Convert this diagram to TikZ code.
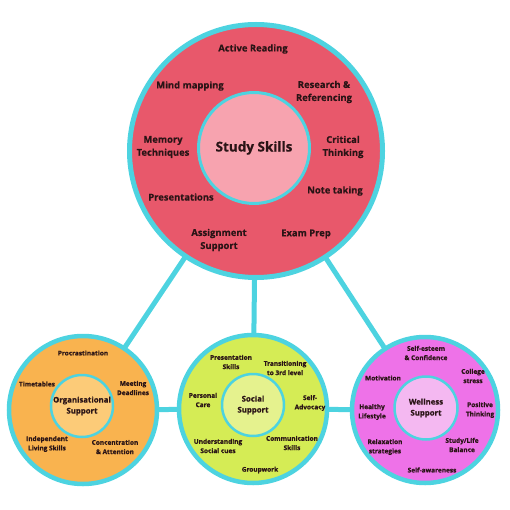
\documentclass[tikz,border=0pt]{standalone}
\usepackage{fontspec}
\setmainfont{Open Sans}[BoldFeatures={FakeBold=0.6}]
\usetikzlibrary{backgrounds}
\definecolor{ringcyan}{HTML}{4DD3E0}
\definecolor{inktext}{HTML}{2A1416}
\definecolor{studyout}{HTML}{E8586B}
\definecolor{studyin}{HTML}{F7A3AF}
\definecolor{orgout}{HTML}{F9B34F}
\definecolor{orgin}{HTML}{FCCB78}
\definecolor{socout}{HTML}{D5EC55}
\definecolor{socin}{HTML}{E5F28E}
\definecolor{welout}{HTML}{EE72E8}
\definecolor{welin}{HTML}{F4B8F1}

\begin{document}
\begin{tikzpicture}[
  x=1pt,
  y=-1pt,
  every node/.style={text=inktext, align=center, inner sep=0pt},
  ring/.style={circle, draw=ringcyan, line width=5pt, minimum size=#1},
  core/.style={circle, draw=ringcyan, line width=#1},
  link/.style={draw=ringcyan, line width=5pt},
  biglabel/.style={font=\fontsize{9.4}{13}\selectfont\bfseries},
  smalllabel/.style={font=\fontsize{6.5}{9.3}\selectfont\bfseries},
  corelabel/.style={font=\fontsize{7.8}{11}\selectfont\bfseries}]

\useasboundingbox (0,0) rectangle (510,510);

% --- Outer rings ---
\node[ring=253pt, fill=studyout] (studyring) at (256,151) {};
\node[ring=148pt, line width=4.5pt, fill=orgout] (orgring) at (83,410) {};
\node[ring=148pt, line width=4.5pt, fill=socout] (socring) at (253,409) {};
\node[ring=146pt, line width=4.5pt, fill=welout] (welring) at (425,410) {};

% --- Centre circles ---
\node[core=3pt, fill=studyin, minimum size=111pt,
      font=\fontsize{13.5}{15}\selectfont\bfseries] (study) at (254,148) {Study Skills};
\node[core=2.5pt, fill=orgin, minimum size=62pt, corelabel] (org) at (82,406)
  {Organisational\\Support};
\node[core=2.5pt, fill=socin, minimum size=62pt, corelabel] (soc) at (253,405)
  {Social\\Support};
\node[core=2.5pt, fill=welin, minimum size=63pt, corelabel] (wel) at (426,408)
  {Wellness\\Support};

% --- Connectors behind the rings ---
\begin{scope}[on background layer]
  \draw[link] (studyring.center) -- (orgring.center);
  \draw[link] (studyring.center) -- (socring.center);
  \draw[link] (studyring.center) -- (welring.center);
  \draw[link] (orgring.center) -- (socring.center) -- (welring.center);
\end{scope}

% --- Study skills topics ---
\foreach \i/\X/\Y/\txt in {1/253/49/Active Reading, 2/190/86/Mind mapping,
    3/324/92/{Research \&\\Referencing}, 4/163/147/{Memory\\Techniques},
    5/343/147/{Critical\\Thinking}, 6/335/191/Note taking,
    7/181/197/Presentations, 8/219/240/{Assignment\\Support},
    9/306/234/Exam Prep}
  \node[biglabel] (st\i) at (\X,\Y) {\txt};

% --- Organisational topics ---
\foreach \i/\X/\Y/\txt in {1/83/353/Procrastination, 2/37/384/Timetables,
    3/133/388/{Meeting\\Deadlines}, 4/47/444/{Independent\\Living Skills},
    5/115/447/{Concentration\\\& Attention}}
  \node[smalllabel] (or\i) at (\X,\Y) {\txt};

% --- Social topics ---
\foreach \i/\X/\Y/\txt in {1/231/362/{Presentation\\Skills},
    2/285/368/{Transitioning\\to 3rd level}, 3/203/400/{Personal\\Care},
    4/310/403/{Self-\\Advocacy}, 5/218/446/{Understanding\\Social cues},
    6/292/443/{Communication\\Skills}, 7/260/470/Groupwork}
  \node[smalllabel] (so\i) at (\X,\Y) {\txt};

% --- Wellness topics ---
\foreach \i/\X/\Y/\txt in {1/426/353/{Self-esteem\\\& Confidence},
    2/473/376/{College\\stress}, 3/383/378/Motivation,
    4/372/412/{Healthy\\Lifestyle}, 5/480/410/{Positive\\Thinking},
    6/385/447/{Relaxation\\strategies}, 7/462/445/{Study/Life\\Balance},
    8/432/470/Self-awareness}
  \node[smalllabel] (we\i) at (\X,\Y) {\txt};

\end{tikzpicture}
\end{document}
